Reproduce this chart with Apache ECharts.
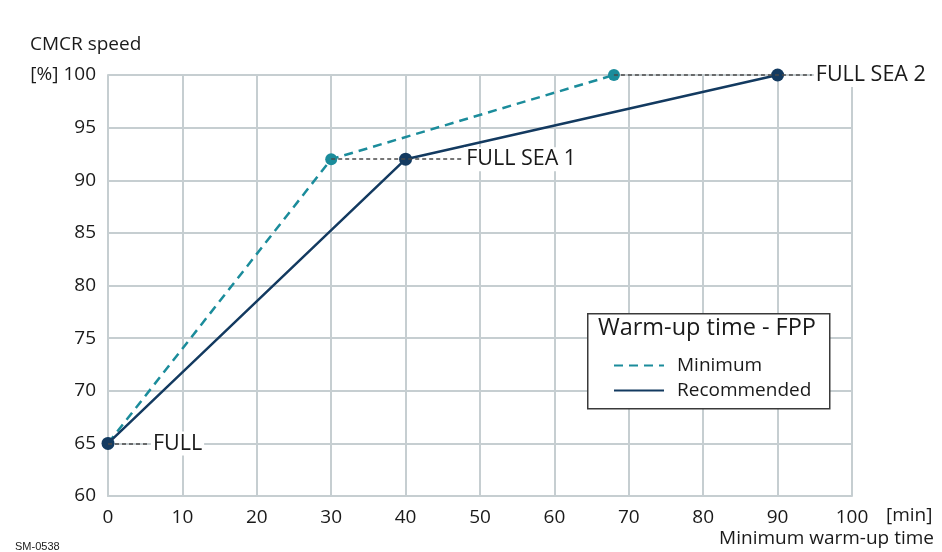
<!DOCTYPE html>
<html><head><meta charset="utf-8">
<script src="https://cdn.jsdelivr.net/npm/echarts@6/dist/echarts.min.js"></script>
<style>html,body{margin:0;padding:0;background:#fff}#c{width:942px;height:552px}</style>
</head><body><div id="c"></div>
<script>
const minimumX = [0, 30, 68];
const minimumY = [65, 92, 100];
const recommendedX = [0, 40, 90];
const recommendedY = [65, 92, 100];
const refLabels = ['FULL', 'FULL SEA 1', 'FULL SEA 2'];
const refStartX = [0, 30, 68];
const refEndX = [5.5, 47.6, 94.6];
const refY = [65, 92, 100];
const xTicks = [0, 10, 20, 30, 40, 50, 60, 70, 80, 90, 100];
const yTicks = [60, 65, 70, 75, 80, 85, 90, 95, 100];

const FONT = 'Open Sans';
const TXT = '#1a1a1a';
const GRID = '#c6ced1';
const TEAL = '#1b8c9b';
const NAVY = '#133a60';

const chart = echarts.init(document.getElementById('c'), null, {renderer: 'canvas'});
const refData = refLabels.map((n, i) => [
  {coord: [refStartX[i], refY[i]], name: n},
  {coord: [refEndX[i], refY[i]]}
]);
chart.setOption({
  animation: false,
  backgroundColor: '#fff',
  textStyle: {fontFamily: FONT},
  grid: {left: 108, right: 90, top: 75, bottom: 56, containLabel: false},
  xAxis: {
    type: 'value', min: xTicks[0], max: xTicks[xTicks.length - 1], interval: 10,
    axisLine: {show: true, lineStyle: {color: GRID, width: 2}},
    axisTick: {show: false},
    splitLine: {show: true, lineStyle: {color: GRID, width: 2}},
    axisLabel: {color: TXT, fontSize: 19, margin: 12, fontFamily: FONT}
  },
  yAxis: {
    type: 'value', min: yTicks[0], max: yTicks[yTicks.length - 1], interval: 5,
    axisLine: {show: true, lineStyle: {color: GRID, width: 2}},
    axisTick: {show: false},
    splitLine: {show: true, lineStyle: {color: GRID, width: 2}},
    axisLabel: {color: TXT, fontSize: 19, margin: 12, fontFamily: FONT,
      formatter: v => v === 100 ? '[%] 100' : String(v)}
  },
  legend: {
    orient: 'vertical', left: 608, top: 351, itemWidth: 50, itemHeight: 14, itemGap: 6,
    z: 20,
    data: ['Minimum', 'Recommended'],
    itemStyle: {color: 'rgba(0,0,0,0)', borderWidth: 0},
    textStyle: {color: TXT, fontSize: 19, fontFamily: FONT, padding: [0, 0, 0, 8]}
  },
  graphic: [
    {type: 'rect', left: 587, top: 313, z: 15, shape: {width: 242, height: 95},
     style: {fill: '#fff', stroke: '#3a3a3a', lineWidth: 1.5}},
    {type: 'text', left: 598, top: 316, z: 16,
     style: {text: 'Warm-up time - FPP', fontSize: 23.5, fontFamily: FONT, fill: TXT}},
    {type: 'text', left: 30, top: 35,
     style: {text: 'CMCR speed', fontSize: 19, fontFamily: FONT, fill: TXT}},
    {type: 'text', left: 886, top: 506,
     style: {text: '[min]', fontSize: 19, fontFamily: FONT, fill: TXT}},
    {type: 'text', right: 8, top: 529,
     style: {text: 'Minimum warm-up time', fontSize: 19, fontFamily: FONT, fill: TXT}},
    {type: 'text', left: 15, top: 541,
     style: {text: 'SM-0538', fontSize: 11, fontFamily: 'Liberation Sans', fill: TXT}}
  ],
  series: [
    {
      name: 'refs', type: 'line', data: [], z: 1,
      markLine: {
        silent: true, symbol: ['none', 'none'], animation: false,
        lineStyle: {color: '#4a4a4a', width: 1.5, type: [4, 3]},
        label: {show: true, position: 'end', distance: 2, formatter: p => p.name,
          color: TXT, fontSize: 21.5, fontFamily: FONT, backgroundColor: '#fff', padding: [1, 2]},
        data: refData
      }
    },
    {
      name: 'Minimum', type: 'line', z: 3,
      data: minimumX.map((x, i) => [x, minimumY[i]]),
      symbol: 'circle', symbolSize: 12,
      itemStyle: {color: TEAL},
      lineStyle: {color: TEAL, width: 2.5, type: [9, 6]}
    },
    {
      name: 'Recommended', type: 'line', z: 4,
      data: recommendedX.map((x, i) => [x, recommendedY[i]]),
      symbol: 'circle', symbolSize: 13,
      itemStyle: {color: NAVY},
      lineStyle: {color: NAVY, width: 2.5}
    }
  ]
});
</script></body></html>
